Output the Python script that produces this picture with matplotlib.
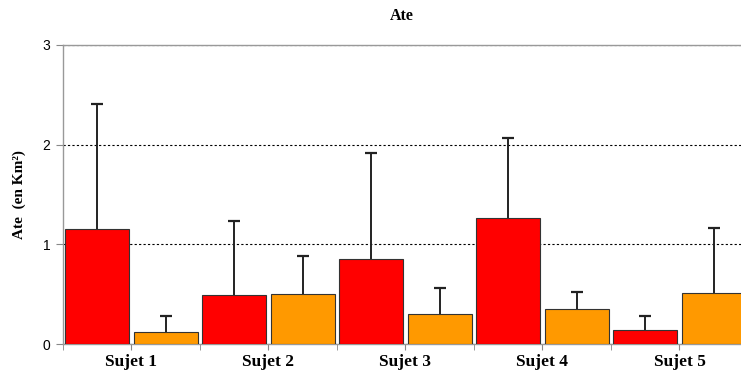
import numpy as np
import matplotlib
matplotlib.use("Agg")
import matplotlib.pyplot as plt
from matplotlib.ticker import FixedLocator

# data
sujets = ["Sujet 1", "Sujet 2", "Sujet 3", "Sujet 4", "Sujet 5"]
rouge = [1.15, 0.49, 0.85, 1.26, 0.14]
rouge_haut = [2.41, 1.23, 1.92, 2.07, 0.28]
orange = [0.12, 0.50, 0.30, 0.35, 0.51]
orange_haut = [0.28, 0.88, 0.56, 0.52, 1.16]

serif = ["Liberation Serif", "DejaVu Serif"]
sans = ["Liberation Sans", "DejaVu Sans"]

fig = plt.figure(figsize=(7.41, 3.74), dpi=100)
ax = fig.add_axes([0.085, 0.0802, 0.915, 0.7995])

x = np.arange(len(sujets))
w = 0.47
cap = 0.045

for pos, vals, tops, col in [(x - 0.25, rouge, rouge_haut, "#FF0000"),
                             (x + 0.25, orange, orange_haut, "#FF9900")]:
    ax.bar(pos, vals, w, color=col, edgecolor="#333333", linewidth=0.8, zorder=3)
    # upper error bar only
    ax.vlines(pos, vals, tops, color="#222222", linewidth=1.4, zorder=2)
    ax.hlines(tops, pos - cap, pos + cap, color="#222222", linewidth=1.6, zorder=2)

ax.set_xlim(-0.5, -0.5 + 678 / 137)
ax.set_ylim(0, 3)
ax.set_yticks([0, 1, 2, 3])
ax.yaxis.grid(True, linestyle=(0, (2, 2)), color="black", linewidth=0.8)
ax.set_axisbelow(True)

ax.set_xticks(x)
ax.set_xticklabels(sujets, fontfamily=serif, fontweight="bold", fontsize=12.5)
ax.xaxis.set_minor_locator(FixedLocator(np.arange(-0.5, 5.0, 0.5)))
ax.tick_params(axis="x", which="both", length=4, color="#888888", direction="out", pad=3)
ax.tick_params(axis="y", length=5, color="#888888", labelsize=10, pad=4)
for lab in ax.get_yticklabels():
    lab.set_fontfamily(sans)

for s in ["left", "bottom", "top"]:
    ax.spines[s].set_color("#999999")
    ax.spines[s].set_linewidth(1.0)
ax.spines["right"].set_visible(False)

ax.set_ylabel("Ate  (en Km²)", fontfamily=serif, fontweight="bold", fontsize=11, labelpad=12)
ax.set_title("Ate", fontfamily=serif, fontweight="bold", fontsize=11.5, pad=18)

fig.savefig("out.png", dpi=100)
